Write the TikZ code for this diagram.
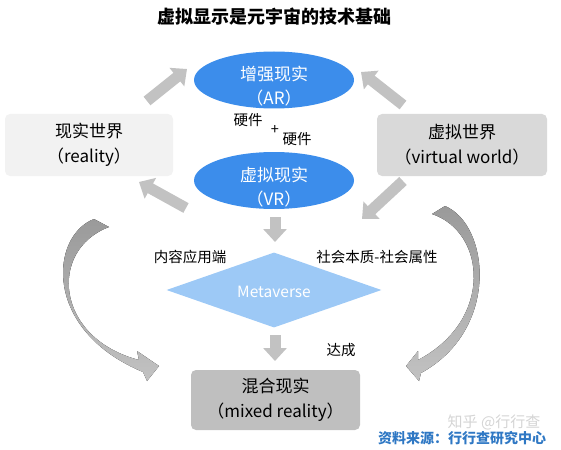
\documentclass[tikz,border=0pt]{standalone}
\usepackage{fontspec}
\setmainfont{Noto Sans CJK SC}
\usetikzlibrary{arrows.meta,shapes.geometric}
\definecolor{blueE}{HTML}{3C8DEB}
\definecolor{blueD}{HTML}{9DC9F6}
\definecolor{boxA}{HTML}{F2F2F2}
\definecolor{boxB}{HTML}{D9D9D9}
\definecolor{boxC}{HTML}{BFBFBF}
\definecolor{arrc}{HTML}{C2C2C2}
\definecolor{arrdark}{HTML}{9A9A9A}
\definecolor{srcc}{HTML}{2F78C4}
\definecolor{wmark}{HTML}{D4D4D4}
\begin{document}
\begin{tikzpicture}[x=1pt,y=-1pt,
  ell/.style={ellipse, fill=blueE, minimum width=160pt, minimum height=57pt, inner sep=0pt},
  elltext/.style={text=white, align=center, font=\fontsize{17}{24}\selectfont},
  gbox/.style={rounded corners=5pt, minimum height=62pt, align=center, font=\fontsize{17}{25}\selectfont},
  lbl/.style={font=\fontsize{14.5}{16}\selectfont, inner sep=0pt},
  barrow/.style={draw=arrc, line width=11pt, -{Triangle[width=23pt,length=13pt]}},
]
\useasboundingbox (0,0) rectangle (561,449);

% title
\node[font=\fontsize{18}{20}\selectfont\bfseries] (title) at (274.5,17) {虚拟显示是元宇宙的技术基础};

% ellipses
\node[ell] (ar) at (274,80) {};
\node[elltext] (artext) at (274,86.5) {增强现实\\（AR）};
\node[ell] (vr) at (274,180.5) {};
\node[elltext] (vrtext) at (274,187.5) {虚拟现实\\（VR）};

% boxes
\node[gbox, fill=boxA, minimum width=168pt] (real) at (89,145) {现实世界\\（reality）};
\node[gbox, fill=boxB, minimum width=170pt] (virt) at (462,145) {虚拟世界\\（virtual world）};
\node[gbox, fill=boxC, minimum width=169pt, minimum height=60pt] (mixed) at (275.5,400) {混合现实\\（mixed reality）};

% diamond
\node[diamond, fill=blueD, minimum width=215pt, minimum height=75pt, inner sep=0pt] (meta) at (274,290) {};
\node[text=white, font=\fontsize{15.5}{18}\selectfont] (metatext) at (274,292) {Metaverse};

% labels
\node[lbl] (hw1) at (248,120) {硬件};
\node[lbl] (plus) at (275,130) {+};
\node[lbl] (hw2) at (297,139.5) {硬件};
\node[lbl] (content) at (190,257) {内容应用端};
\node[lbl] (social) at (377,257) {社会本质-社会属性};
\node[lbl] (reach) at (341,350) {达成};

% straight block arrows
\coordinate (a1s) at (147,101); \coordinate (a1e) at (187,69);
\coordinate (a2s) at (403,105); \coordinate (a2e) at (361,72);
\coordinate (a3s) at (186,208); \coordinate (a3e) at (139,182);
\coordinate (a4s) at (403,181); \coordinate (a4e) at (362,219);
\coordinate (a5s) at (275,217); \coordinate (a5e) at (275,242);
\coordinate (a6s) at (275,335); \coordinate (a6e) at (275,361);
\draw[barrow] (a1s) -- (a1e);
\draw[barrow] (a2s) -- (a2e);
\draw[barrow] (a3s) -- (a3e);
\draw[barrow] (a4s) -- (a4e);
\draw[barrow] (a5s) -- (a5e);
\draw[barrow] (a6s) -- (a6e);

% curved arrows
\fill[top color=arrdark, bottom color=arrc]
  (94,219) .. controls (50,236) and (42,330) .. (143,372)
  -- (147,381) -- (159,366) -- (137,351) -- (139,360)
  .. controls (55,338) and (48,250) .. (109,227) -- cycle;
\fill[top color=arrdark, bottom color=arrc]
  (445,206) .. controls (490,225) and (500,330) .. (421,373)
  -- (419,381) -- (406,366) -- (418,351) -- (418,360)
  .. controls (494,320) and (486,232) .. (432,214) -- cycle;

% footer
\node[text=wmark, font=\fontsize{15}{17}\selectfont] (wm) at (494,422) {知乎 @行行查};
\node[text=srcc, font=\fontsize{14}{16}\selectfont\bfseries] (src) at (462,438) {资料来源：行行查研究中心};
\end{tikzpicture}
\end{document}
